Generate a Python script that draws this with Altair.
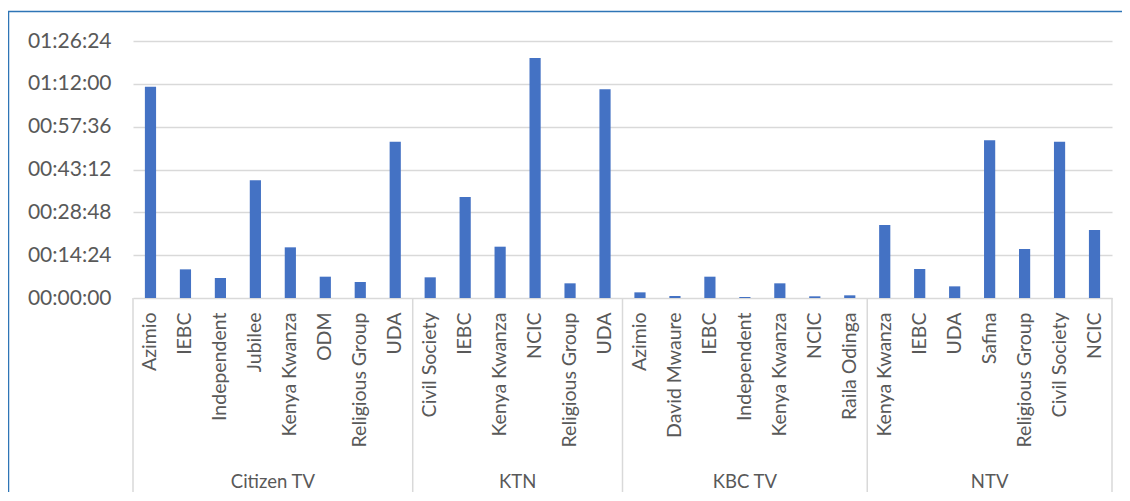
import altair as alt
import pandas as pd

# ---- data (durations in seconds) ----
channels = ["Citizen TV", "KTN", "KBC TV", "NTV"]

citizen_names = ["Azimio", "IEBC", "Independent", "Jubilee", "Kenya Kwanza", "ODM", "Religious Group", "UDA"]
citizen_secs = [4263, 578, 403, 2374, 1022, 430, 323, 3154]

ktn_names = ["Civil Society", "IEBC", "Kenya Kwanza", "NCIC", "Religious Group", "UDA"]
ktn_secs = [417, 2037, 1035, 4841, 296, 4209]

kbc_names = ["Azimio", "David Mwaure", "IEBC", "Independent", "Kenya Kwanza", "NCIC", "Raila Odinga"]
kbc_secs = [114, 40, 430, 20, 296, 34, 54]

ntv_names = ["Kenya Kwanza", "IEBC", "UDA", "Safina", "Religious Group", "Civil Society", "NCIC"]
ntv_secs = [1473, 585, 235, 3181, 988, 3154, 1372]

y_ticks = [0, 864, 1728, 2592, 3456, 4320, 5184]

names_by_channel = [citizen_names, ktn_names, kbc_names, ntv_names]
secs_by_channel = [citizen_secs, ktn_secs, kbc_secs, ntv_secs]

rows, groups = [], []
i = 0
for ch, ns, ss in zip(channels, names_by_channel, secs_by_channel):
    start = i
    for n, s in zip(ns, ss):
        rows.append({"channel": ch, "name": n, "secs": s,
                     "lo": i + 0.34, "hi": i + 0.66, "mid": i + 0.5})
        i += 1
    groups.append({"channel": ch, "start": start, "end": i, "center": (start + i) / 2})
n_total = i
df = pd.DataFrame(rows)
gdf = pd.DataFrame(groups)
bdf = pd.DataFrame({"b": [0] + [g["end"] for g in groups]})

W, H = 979, 257
GRAY = "#595959"
LINE = "#d9d9d9"
FONT = "Lato"

xscale = alt.Scale(domain=[0, n_total], nice=False, zero=False)

border = alt.Chart(pd.DataFrame({"a": [0]})).mark_rect(
    fill="white", fillOpacity=0, stroke="#2E75B6", strokeWidth=1.5
).encode(
    x=alt.value(-124.5), x2=alt.value(W + 200),
    y=alt.value(-29.5), y2=alt.value(H + 300)
)

bars = alt.Chart(df).mark_bar(color="#4472C4").encode(
    x=alt.X("lo:Q", scale=xscale, axis=None),
    x2="hi:Q",
    y=alt.Y("secs:Q",
            scale=alt.Scale(domain=[0, 5184], nice=False),
            axis=alt.Axis(values=y_ticks,
                          labelExpr="utcFormat(datum.value*1000, '%H:%M:%S')",
                          title=None, domain=False, ticks=False,
                          grid=True, gridColor=LINE, gridWidth=1.5,
                          labelFont=FONT, labelFontSize=21, labelColor=GRAY,
                          labelPadding=22)),
    y2=alt.datum(0),
)

sub_labels = alt.Chart(df).mark_text(
    angle=270, align="right", baseline="middle",
    font=FONT, fontSize=19.5, color=GRAY
).encode(
    x=alt.X("mid:Q", scale=xscale, axis=None),
    y=alt.value(H + 14.5),
    text="name:N",
)

group_labels = alt.Chart(gdf).mark_text(
    align="center", baseline="middle", font=FONT, fontSize=18.5, color=GRAY
).encode(
    x=alt.X("center:Q", scale=xscale, axis=None),
    y=alt.value(441),
    text="channel:N",
)

separators = alt.Chart(bdf).mark_rule(color=LINE, strokeWidth=1.5).encode(
    x=alt.X("b:Q", scale=xscale, axis=None),
    y=alt.value(H),
    y2=alt.value(452),
)

chart = alt.layer(border, bars, separators, sub_labels, group_labels).properties(
    width=W, height=H,
    padding={"left": 125, "top": 33, "right": 10, "bottom": 194},
    autosize=alt.AutoSizeParams(type="none"),
    background="white",
).configure_view(stroke=None)

chart.save("out.html", embed_options={"renderer": "svg", "actions": False})
